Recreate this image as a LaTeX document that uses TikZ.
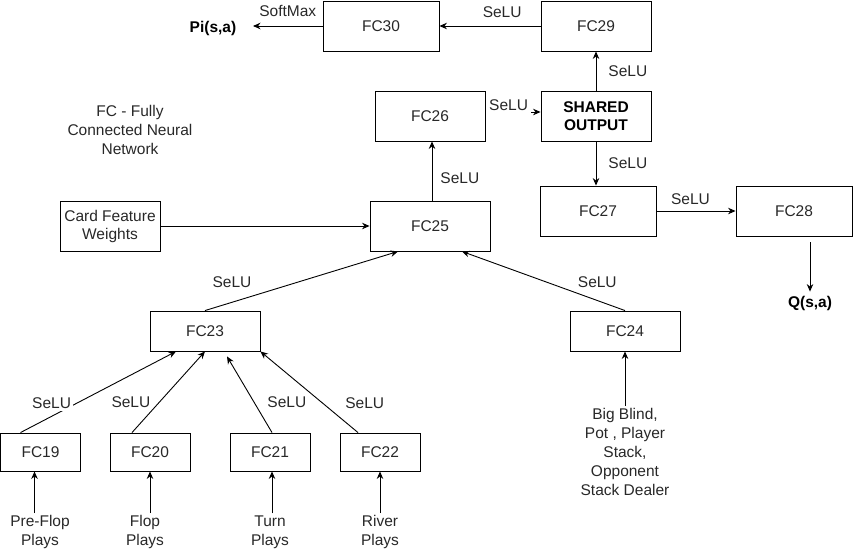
\documentclass[tikz,border=0pt]{standalone}
\usepackage{fontspec}
\setmainfont{Liberation Sans}
\usetikzlibrary{arrows.meta,positioning,calc}
\definecolor{TextGray}{RGB}{40,40,40}
\tikzset{
  layer/.style={draw=black,line width=0.9pt,minimum width=110pt,
    minimum height=50pt,inner sep=0pt,text=TextGray,align=center,
    font=\fontsize{15.5}{18}\selectfont},
  smalllayer/.style={layer,minimum width=80pt,minimum height=38pt},
  plain/.style={text=TextGray,align=center,inner sep=2pt,
    font=\fontsize{15.5}{19}\selectfont},
  act/.style={plain,fill=white,inner sep=2pt},
  outlabel/.style={inner sep=4pt,font=\bfseries\fontsize{15.5}{18}\selectfont},
  arrow/.style={-{Stealth[length=7.5pt,width=6.5pt]},line width=0.9pt}
}
\begin{document}
\begin{tikzpicture}[x=1pt,y=-1pt]
  \useasboundingbox (0,0) rectangle (853,552);
  % policy head and value head
  \node[layer,minimum width=116pt] (fc30) at (381,26) {FC30};
  \node[layer] (fc29) at (596,26) {FC29};
  \node[layer] (fc26) at (430,116) {FC26};
  \node[layer,text=black,font=\bfseries\fontsize{15.5}{18}\selectfont]
    (shared) at (596,116) {SHARED\\OUTPUT};
  \node[layer,minimum width=116pt] (fc27) at (598,211) {FC27};
  \node[layer,minimum width=116pt] (fc28) at (794,211) {FC28};
  \node[outlabel] (pi) at (213,28) {Pi(s,a)};
  \node[outlabel] (q) at (810,303) {Q(s,a)};
  \coordinate (piend) at (253,26);
  \node[plain] (legend) at (130,130) {FC - Fully\\Connected Neural\\Network};
  % trunk
  \node[layer,minimum width=120pt] (fc25) at (430,226) {FC25};
  \node[layer,minimum width=100pt] (card) at (110,226) {Card Feature\\Weights};
  \node[layer,minimum height=40pt] (fc23) at (205,331) {FC23};
  \node[layer,minimum height=40pt] (fc24) at (625,331) {FC24};
  \node[plain] (stats) at (625,452)
    {Big Blind,\\Pot , Player\\Stack,\\Opponent\\Stack Dealer};
  % street inputs
  \foreach \n/\x in {19/40.5,20/150,21/270,22/380}
    \node[smalllayer] (fc\n) at (\x,452) {FC\n};
  \foreach \n/\x/\txt in {19/40/Pre-Flop,20/145/Flop,21/270/Turn,22/380/River}
    \node[plain] (in\n) at (\x,532) {\txt\\Plays};
  \foreach \n/\dx in {19/-6,20/0,21/2,22/0}
    \draw[arrow] ($(fc\n.south |- in\n.north)+(\dx,0)$) -- ($(fc\n.south)+(\dx,0)$);

  % connectors
  \draw[arrow] (fc30.west) -- node[plain,above=7pt] {SoftMax} (piend);
  \draw[arrow] (fc29.west) -- node[plain,pos=0.38,above=6pt] {SeLU} (fc30.east);
  \draw[arrow] (shared.north) -- node[plain,right=10pt] {SeLU} (fc29.south);
  \draw[arrow] ([yshift=4pt]fc26.east) -- node[act,inner sep=3pt,pos=0.42,yshift=7pt] {SeLU}
    ([yshift=4pt]shared.west);
  \draw[arrow] (shared.south) -- node[plain,right=10pt] {SeLU} (shared.south |- fc27.north);
  \draw[arrow] (fc27.east) -- node[plain,pos=0.43,above=4pt] {SeLU} (fc28.west);
  \draw[arrow] (fc28.south -| q.north) ++(0,6) -- (q.north);
  \draw[arrow] ([xshift=2pt]fc25.north) -- node[plain,pos=0.38,right=6pt] {SeLU}
    ([xshift=2pt]fc26.south);
  \draw[arrow] (card.east) -- (fc25.west);
  \draw[arrow] (fc23.north) -- node[plain,pos=0.14,above=12pt] {SeLU}
    ([xshift=-32pt]fc25.south);
  \draw[arrow] (fc24.north) -- node[plain,pos=0.17,above=10pt] {SeLU}
    ([xshift=32pt]fc25.south);
  \draw[arrow] (stats.north) -- (fc24.south);
  \draw[arrow] ([xshift=-20pt]fc19.north) -- node[act,pos=0.2,above=5pt] {SeLU}
    ([xshift=-29pt]fc23.south);
  \draw[arrow] ([xshift=-18pt]fc20.north) -- node[plain,pos=0.38,left=7pt] {SeLU}
    (fc23.south);
  \draw[arrow] ([xshift=2pt]fc21.north) -- node[plain,pos=0.4,right=11pt] {SeLU}
    ([xshift=22pt,yshift=-5pt]fc23.south);
  \draw[arrow] ([xshift=-22pt]fc22.north) -- node[plain,pos=0.36,right=20pt] {SeLU}
    (fc23.south east);
\end{tikzpicture}
\end{document}
